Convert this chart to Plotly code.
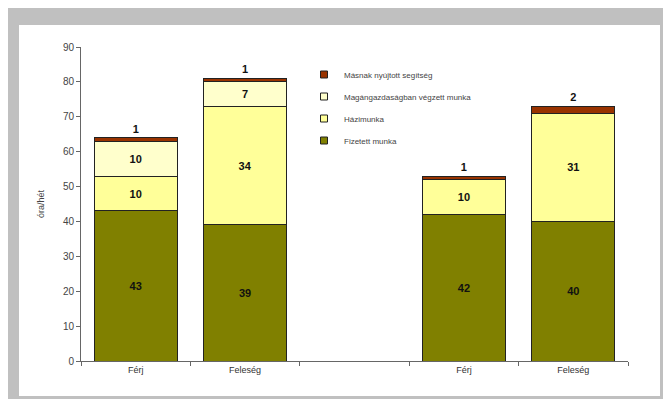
import plotly.graph_objects as go

categories = ["Férj", "Feleség", " ", "Férj ", "Feleség "]
tick_labels = ["Férj", "Feleség", "", "Férj", "Feleség"]

series_names = ["Fizetett munka", "Házimunka", "Magángazdaságban végzett munka", "Másnak nyújtott segítség"]
fizetett = [43, 39, None, 42, 40]
hazimunka = [10, 34, None, 10, 31]
magangazd = [10, 7, None, None, None]
masnak = [1, 1, None, 1, 2]
y_ticks = [0, 10, 20, 30, 40, 50, 60, 70, 80, 90]

colors = ["#808000", "#ffff99", "#ffffcc", "#993300"]
values = [fizetett, hazimunka, magangazd, masnak]

W, H = 671, 399
L, R, T, B = 73, 51, 39, 46
pw, ph = W - L - R, H - T - B

def px_x(p):
    return (p - L) / pw

def px_y(p):
    return (H - B - p) / ph

num_font = dict(family="Arial", size=11, color="#111111", weight="bold")

fig = go.Figure()
for i, (name, vals, col) in enumerate(zip(series_names, values, colors)):
    top = i == len(series_names) - 1
    fig.add_trace(go.Bar(
        x=categories, y=vals, name=name,
        marker=dict(color=col, line=dict(color="#222222", width=1)),
        text=[("" if v is None else str(v)) for v in vals],
        textposition="outside" if top else "inside",
        insidetextanchor="middle",
        textfont=num_font, insidetextfont=num_font, outsidetextfont=num_font,
        constraintext="none",
        cliponaxis=False,
        width=0.76,
        showlegend=False,
    ))
# legend entries (small square swatches), top series first
for i in reversed(range(len(series_names))):
    fig.add_trace(go.Scatter(
        x=[None], y=[None], mode="markers", name=series_names[i],
        marker=dict(symbol="square", size=7, color=colors[i], line=dict(color="#222222", width=1)),
        legendgroup=f"g{i}",
    ))

fig.update_layout(
    width=W, height=H,
    barmode="stack",
    margin=dict(l=L, r=R, t=T, b=B),
    paper_bgcolor="#c0c0c0",
    plot_bgcolor="white",
    font=dict(family="Arial", color="#333333"),
    uniformtext=dict(minsize=8, mode="show"),
    legend=dict(
        x=px_x(296), y=px_y(52), xanchor="left", yanchor="top",
        traceorder="grouped", tracegroupgap=3,
        font=dict(family="Arial", size=8, color="#444444"),
        bgcolor="rgba(0,0,0,0)", itemwidth=30,
    ),
    showlegend=True,
    shapes=[dict(type="rect", xref="paper", yref="paper",
                 x0=px_x(11), x1=px_x(652), y0=px_y(388), y1=px_y(17),
                 fillcolor="white", line=dict(width=0), layer="below")],
)
fig.update_yaxes(
    range=[0, 90], tickvals=y_ticks, ticks="outside", ticklen=4,
    tickcolor="#666666", showline=True, linecolor="#666666", linewidth=1,
    showgrid=False, zeroline=False,
    tickfont=dict(family="Arial", size=10, color="#444444"),
    title=dict(text="óra/hét", font=dict(family="Arial", size=9, color="#444444"), standoff=16),
)
fig.update_xaxes(
    type="category", categoryorder="array", categoryarray=categories,
    tickvals=categories, ticktext=tick_labels,
    tickson="boundaries", ticks="outside", ticklen=4, tickcolor="#666666",
    showline=True, linecolor="#666666", linewidth=1, showgrid=False,
    tickfont=dict(family="Arial", size=9, color="#333333"),
)

fig.write_html("out.html")
